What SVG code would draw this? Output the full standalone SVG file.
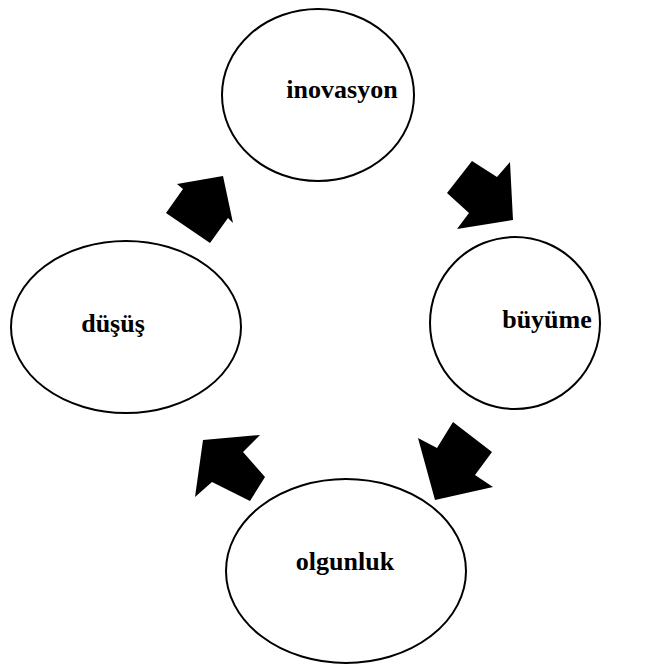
<svg xmlns="http://www.w3.org/2000/svg" width="654" height="668" viewBox="0 0 654 668">
  <style>
    .stage { fill: #ffffff; stroke: #000000; stroke-width: 2; }
    .label { font-family: "Liberation Serif", "Times New Roman", serif; font-weight: bold; font-size: 26px; fill: #000000; text-anchor: middle; }
    .flow { fill: #000000; stroke: none; }
  </style>
  <rect width="654" height="668" fill="#ffffff"/>

  <g id="connectors">
    <!-- inovasyon to büyüme -->
    <polygon class="flow" points="472,161 497,177 510,162 513,220 457,229 469,213 447,193"/>
    <!-- büyüme to olgunluk -->
    <polygon class="flow" points="453,422 492,452 475,475 493,487 435,500 418,438 437,448"/>
    <!-- olgunluk to düşüş -->
    <polygon class="flow" points="265,477 243,452 260,435 203,440 195,497 212,482 250,501"/>
    <!-- düşüş to inovasyon -->
    <polygon class="flow" points="177,184 223,176 233,223 228,218 210,243 166,213 183,189"/>
  </g>

  <g id="inovasyon">
    <ellipse class="stage" cx="318" cy="95" rx="96" ry="86"/>
    <text class="label" x="342" y="98">inovasyon</text>
  </g>
  <g id="buyume">
    <ellipse class="stage" cx="515" cy="323" rx="85" ry="86"/>
    <text class="label" x="547" y="328">büyüme</text>
  </g>
  <g id="dusus">
    <ellipse class="stage" cx="126" cy="327" rx="115" ry="86"/>
    <text class="label" x="113" y="332">düşüş</text>
  </g>
  <g id="olgunluk">
    <ellipse class="stage" cx="346" cy="571" rx="120" ry="92"/>
    <text class="label" x="345" y="570">olgunluk</text>
  </g>
</svg>
